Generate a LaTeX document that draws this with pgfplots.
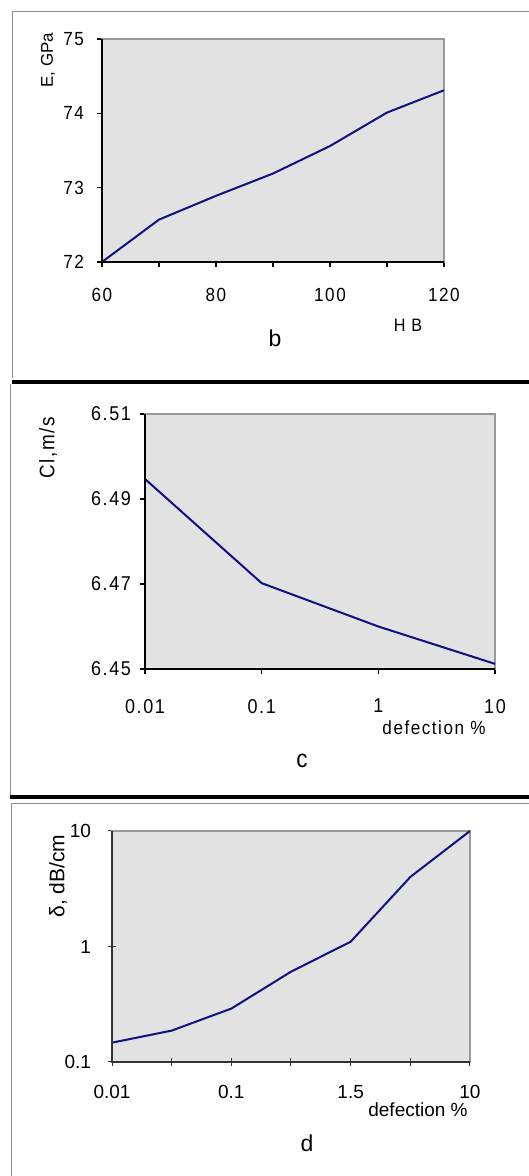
\documentclass[border=0pt]{standalone}
\usepackage{fontspec}
\setmainfont{Liberation Sans}
\newfontfamily\spaced[LetterSpace=8,FakeStretch=0.9]{Liberation Sans}
\usepackage{pgfplots}
\pgfplotsset{compat=1.18}
\definecolor{plotbg}{HTML}{E2E2E2}
\definecolor{curve}{HTML}{101080}
\definecolor{edge}{HTML}{999999}
\definecolor{frame}{HTML}{8C8C8C}

\pgfplotsset{
  panel/.style={
    scale only axis,anchor=south west,
    axis background/.style={fill=plotbg},
    axis line style={draw=edge,line width=0.7pt},
    tick style={black,line width=0.7pt},
    xtick pos=bottom,ytick pos=left,
    tick align=outside,major tick length=2.5pt,
    /pgf/number format/assume math mode=true,
    after end axis/.code={\draw[black,line width=1pt] (rel axis cs:0,1)--(rel axis cs:0,0)--(rel axis cs:1,0);},
  },
}

\begin{document}
\begin{tikzpicture}
\useasboundingbox (0,0) rectangle (264.5pt,588pt);
% frames
\draw[frame,line width=0.5pt] (6pt,399pt)--(6pt,582pt)--(264.5pt,582pt);
\draw[black,line width=2pt] (6pt,397pt)--(264.5pt,397pt);
\draw[frame,line width=0.5pt] (5pt,396pt)--(5pt,190pt);
\draw[black,line width=1.8pt] (5pt,189.5pt)--(264.5pt,189.5pt);
\draw[frame,line width=0.5pt] (5.5pt,0pt)--(5.5pt,186pt)--(264.5pt,186pt);

% panel b
\begin{axis}[panel,at={(51pt,457pt)},width=171pt,height=111.5pt,
  xmin=60,xmax=120,ymin=72,ymax=75,
  xtick={60,70,...,120},xticklabels={60,,80,,100,,120},
  ytick={72,73,74,75},
  ticklabel style={font=\spaced\fontsize{9.5}{11}\selectfont},
  xticklabel shift=7pt,yticklabel shift=3pt]
\addplot[curve,line width=1pt] coordinates {(60,72) (70,72.57) (80,72.89) (90,73.19) (100,73.56) (110,74.01) (120,74.31)};
\end{axis}
\node[rotate=90,font=\fontsize{8.5}{10}\selectfont] at (24pt,558pt) {E, GPa};
\node[anchor=base,font=\spaced\fontsize{9}{10}\selectfont] at (204pt,422pt) {H B};
\node[anchor=base,font=\fontsize{11.5}{13}\selectfont] at (137.5pt,414.5pt) {b};

% panel c
\begin{axis}[panel,at={(72.5pt,253.5pt)},width=175pt,height=127.5pt,
  xmode=log,xmin=0.01,xmax=10,ymin=6.45,ymax=6.51,
  xtick={0.01,0.1,1,10},xticklabels={0.01,0.1,1,10},
  minor x tick style={draw=none},
  ytick={6.45,6.47,6.49,6.51},yticklabels={6.45,6.47,6.49,6.51},
  ticklabel style={font=\spaced\fontsize{10}{12}\selectfont},
  xticklabel shift=9pt,yticklabel shift=1pt]
\addplot[curve,line width=1pt] coordinates {(0.01,6.4947) (0.1,6.4702) (1,6.4600) (10,6.4512)};
\end{axis}
\node[rotate=90,font=\spaced\fontsize{10.5}{12}\selectfont] at (24pt,364pt) {Cl,m/s};
\node[anchor=base,font=\spaced\fontsize{9.5}{11}\selectfont] at (217pt,220.5pt) {defection \%};
\node[anchor=base,font=\spaced\fontsize{12.5}{14}\selectfont] at (151pt,204pt) {c};

% panel d
\begin{axis}[panel,at={(56pt,57pt)},width=179pt,height=115.5pt,
  ymode=log,xmin=0,xmax=6,ymin=0.1,ymax=10,
  tick align=center,major tick length=4pt,
  tick style={black!80,line width=0.5pt},
  after end axis/.code={\draw[black!80,line width=0.6pt] (rel axis cs:0,1)--(rel axis cs:0,0)--(rel axis cs:1,0);},
  xtick={0,1,...,6},xticklabels={0.01,,0.1,,1.5,,10},
  ytick={0.1,1,10},yticklabels={0.1,1,10},
  minor y tick style={draw=none},
  ticklabel style={font=\fontsize{9.5}{11}\selectfont},
  xticklabel shift=6pt,yticklabel shift=5pt]
\addplot[curve,line width=1pt] coordinates {(0,0.147) (1,0.187) (2,0.29) (3,0.605) (4,1.10) (5,4.0) (6,10)};
\end{axis}
\node[rotate=90,font=\fontsize{10.5}{12}\selectfont] at (29pt,150pt) {δ, dB/cm};
\node[anchor=base,font=\fontsize{9.5}{11}\selectfont] at (209pt,29.5pt) {defection \%};
\node[anchor=base,font=\fontsize{11.5}{13}\selectfont] at (153.5pt,12.5pt) {d};
\end{tikzpicture}
\end{document}
